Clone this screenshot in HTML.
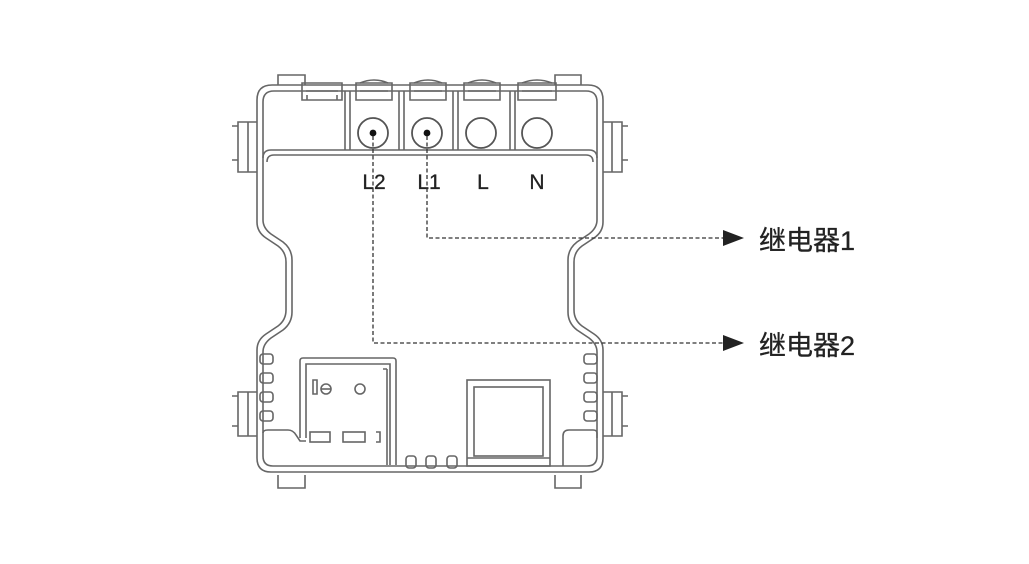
<!DOCTYPE html>
<html><head><meta charset="utf-8"><style>
html,body{margin:0;padding:0;background:#fff;}
svg{display:block}
</style></head><body>
<svg width="1029" height="564" viewBox="0 0 1029 564" xmlns="http://www.w3.org/2000/svg">
<g fill="none" stroke="#666" stroke-width="1.6">
<path d="M272,85 H588 Q603,85 603,100 V222 Q603,232 594,238 L582,246 Q574,252 574,262 V310 Q574,320 582,326 L594,334 Q603,340 603,350 V458 Q603,472 589,472 H271 Q257,472 257,458 V350 Q257,340 266,334 L278,326 Q286,320 286,310 V262 Q286,252 278,246 L266,238 Q257,232 257,222 V100 Q257,85 272,85 Z"/>
<path d="M274,91 H586 Q597,91 597,102 V220 Q597,228 589,234 L577,242 Q568,249 568,260 V312 Q568,323 577,330 L589,338 Q597,344 597,352 V456 Q597,466 587,466 H273 Q263,466 263,456 V352 Q263,344 271,338 L283,330 Q292,323 292,312 V260 Q292,249 283,242 L271,234 Q263,228 263,220 V102 Q263,91 274,91 Z"/>
<path d="M263,158 Q263,150 271,150 H589 Q597,150 597,158"/>
<path d="M267,162 Q267,155 274,155 H586 Q593,155 593,162"/>
<path d="M345,91 V150 M350,91 V150 M399,91 V150 M404,91 V150 M453,91 V150 M458,91 V150 M510,91 V150 M515,91 V150"/>
<g>
<path d="M302,83 H342 V100 H302 Z M306,91 H338 M307,100 V95 M337,100 V95"/>
<path d="M356,83 H392 V100 H356 Z M360,91 H388"/>
<path d="M410,83 H446 V100 H410 Z M414,91 H442"/>
<path d="M464,83 H500 V100 H464 Z M468,91 H496"/>
<path d="M518,83 H556 V100 H518 Z M522,91 H552"/>
<path d="M360,83 Q374,77 388,83 M414,83 Q428,77 442,83 M468,83 Q482,77 496,83 M522,83 Q537,77 552,83"/>
<path d="M278,85 V75 H305 V85 M555,85 V75 H581 V85"/>
<path d="M278,475 V488 H305 V475 M555,475 V488 H581 V475"/>
</g>
<path d="M257,122 H238 V172 H257 M248,122 V172 M232,126 H238 V140 M232,160 H238 V168"/>
<path d="M603,122 H622 V172 H603 M612,122 V172 M628,126 H622 V140 M628,160 H622 V168"/>
<path d="M257,392 H238 V436 H257 M248,392 V436 M232,396 H238 V406 M232,426 H238 V432"/>
<path d="M603,392 H622 V436 H603 M612,392 V436 M628,396 H622 V406 M628,426 H622 V432"/>
<g stroke="#555" stroke-width="1.8">
<circle cx="373" cy="133" r="15"/>
<circle cx="427" cy="133" r="15"/>
<circle cx="481" cy="133" r="15"/>
<circle cx="537" cy="133" r="15"/>
</g>
<g>
<rect x="260" y="354" width="13" height="10" rx="3"/>
<rect x="260" y="373" width="13" height="10" rx="3"/>
<rect x="260" y="392" width="13" height="10" rx="3"/>
<rect x="260" y="411" width="13" height="10" rx="3"/>
<rect x="584" y="354" width="13" height="10" rx="3"/>
<rect x="584" y="373" width="13" height="10" rx="3"/>
<rect x="584" y="392" width="13" height="10" rx="3"/>
<rect x="584" y="411" width="13" height="10" rx="3"/>
</g>
<path d="M300,438 V361 Q300,358 303,358 H393 Q396,358 396,361 V465"/>
<path d="M306,438 V364 H390 V465 M387,369 V465 M383,369 H387"/>
<path d="M313,380 H317 V394 H313 Z"/>
<circle cx="326" cy="389" r="5"/><path d="M321,389 H331"/>
<circle cx="360" cy="389" r="5"/>
<rect x="310" y="432" width="20" height="10"/>
<rect x="343" y="432" width="22" height="10"/>
<path d="M376,432 H380 V442 H376"/>
<path d="M263,433 Q263,430 268,430 H288 Q293,430 296,435 L300,441 H306"/>
<rect x="467" y="380" width="83" height="86"/>
<rect x="474" y="387" width="69" height="69"/>
<path d="M467,458 H550"/>
<path d="M597,438 V433 Q597,430 593,430 H569 Q563,430 563,436 V466"/>
<rect x="406" y="456" width="10" height="12" rx="3"/>
<rect x="426" y="456" width="10" height="12" rx="3"/>
<rect x="447" y="456" width="10" height="12" rx="3"/>
</g>
<circle cx="373" cy="133" r="3.4" fill="#111"/>
<circle cx="427" cy="133" r="3.4" fill="#111"/>
<g font-family="Liberation Sans, sans-serif" font-size="21" fill="#222" text-anchor="middle" stroke="#222" stroke-width="0.3">
<text x="374" y="189">L2</text>
<text x="429" y="189">L1</text>
<text x="483" y="189">L</text>
<text x="537" y="189">N</text>
</g>
<g fill="none" stroke="#333" stroke-width="1.3" stroke-dasharray="4,2.5">
<path d="M373,136 V343 H724"/>
<path d="M427,136 V238 H724"/>
</g>
<path d="M723,230 L744,238 L723,246 Z" fill="#222"/>
<path d="M723,335 L744,343 L723,351 Z" fill="#222"/>
<g font-family="Liberation Sans, 'Noto Sans CJK SC', sans-serif" font-size="27" fill="#222" stroke="#222" stroke-width="0.3">
<text x="759" y="250">继电器1</text>
<text x="759" y="355">继电器2</text>
</g>
</svg>
</body></html>
